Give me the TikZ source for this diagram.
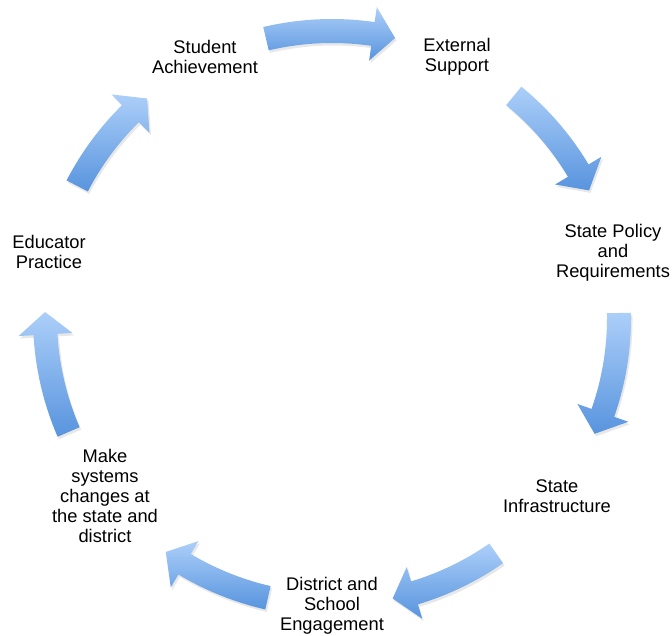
\documentclass[tikz,border=0pt]{standalone}
\usepackage{fontspec}
\setmainfont{Liberation Sans}
\usepackage{xcolor}
\usepackage{tikz}
\usetikzlibrary{shadows}

\definecolor{arrtop}{RGB}{172,207,249}
\definecolor{arrbot}{RGB}{88,148,222}

\begin{document}
\begin{tikzpicture}[x=1bp,y=1bp,
    lbl/.style={align=center,inner sep=0pt,font=\fontsize{18.3bp}{20bp}\selectfont},
    arr/.style={top color=arrtop,bottom color=arrbot,
        drop shadow={opacity=0.18,shadow xshift=1.5bp,shadow yshift=-2.5bp}}]
    \useasboundingbox (0,0) rectangle (672,636);
    \coordinate (O) at (332,318);

    \node[lbl] (A) at (205,579) {Student\\Achievement};
    \node[lbl] (B) at (457,579) {External\\Support};
    \node[lbl] (C) at (613,383) {State Policy\\and\\Requirements};
    \node[lbl] (D) at (557,140) {State\\Infrastructure};
    \node[lbl] (E) at (332,30) {District and\\School\\Engagement};
    \node[lbl] (F) at (105,140) {Make\\systems\\changes at\\the state and\\district};
    \node[lbl] (G) at (49,384) {Educator\\Practice};

    \begin{scope}[shift={(O)}]
    \foreach \a/\b in {103.3/77.3, 50.7/26.4, 1.0/-23.8, -55.1/-77.8,
                       -102.9/-125.4, 203.4/178.8, 152.6/130.1} {
        \pgfmathsetmacro\c{\b+4.5}
        \shade[arr] (\a:299) arc[start angle=\a,end angle=\c,radius=299]
            -- (\c:314) -- (\b:287) -- (\c:260) -- (\c:275)
            arc[start angle=\c,end angle=\a,radius=275] -- cycle;
    }
    \end{scope}
\end{tikzpicture}
\end{document}
